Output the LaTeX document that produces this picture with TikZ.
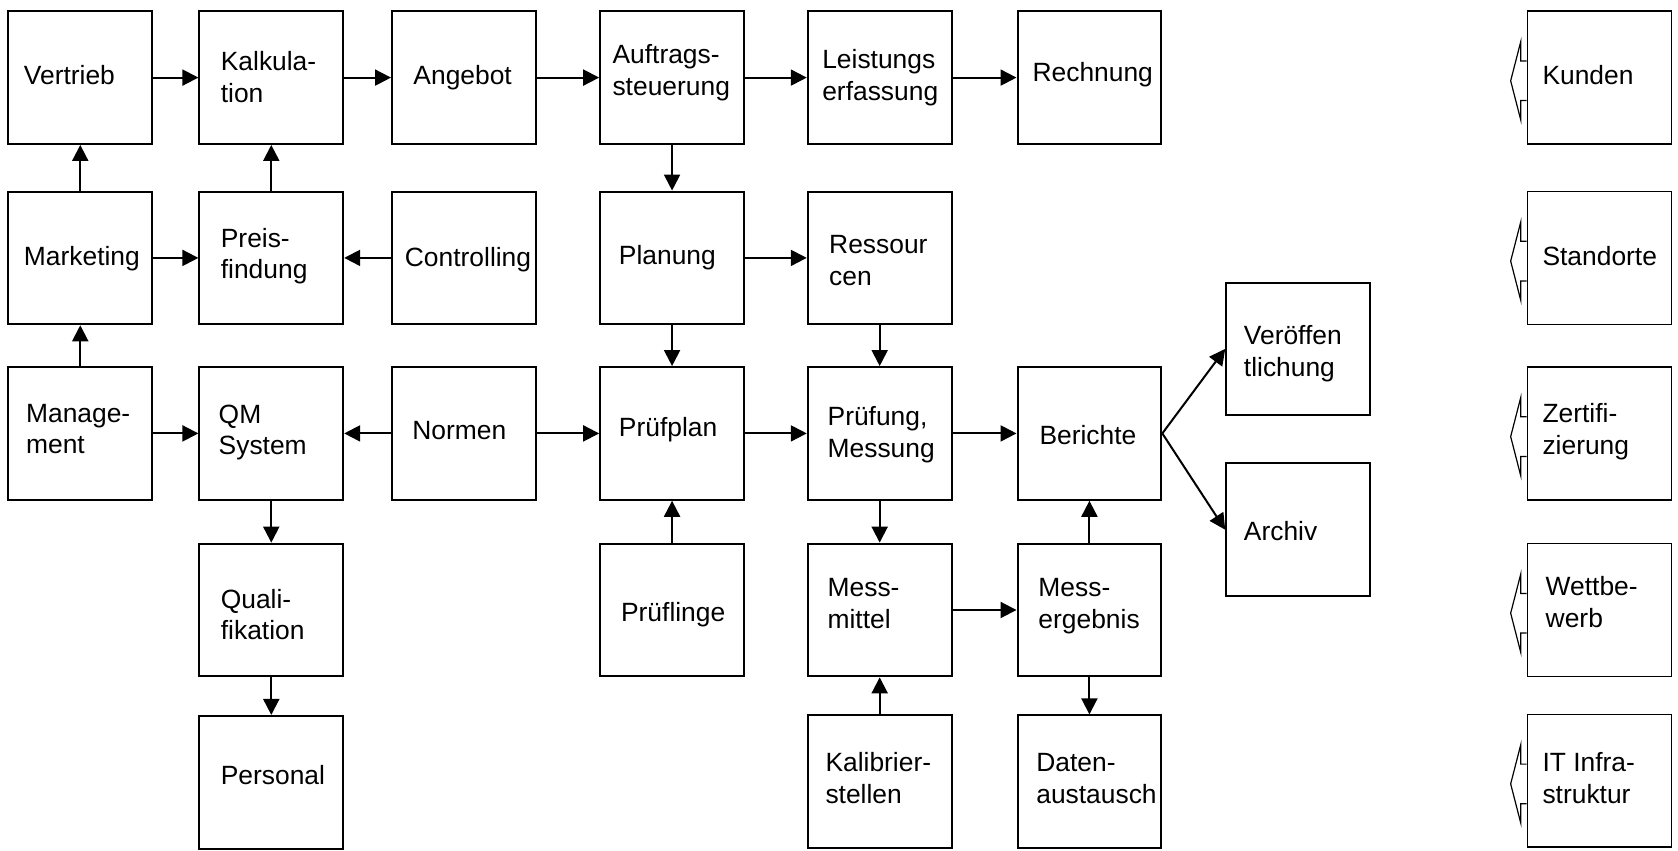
\documentclass[tikz,border=0pt]{standalone}
\usepackage{fontspec}
\setmainfont{Liberation Sans}
\usetikzlibrary{arrows.meta}
\tikzset{
  box/.style={draw, line width=1pt, minimum width=71.9pt, minimum height=66.35pt, inner sep=0pt},
  rbox/.style={draw, line width=0.75pt, minimum width=71.9pt, minimum height=66.35pt, inner sep=0pt},
  lbl/.style={inner sep=0pt, align=left, font=\fontsize{13.2}{15.85}\selectfont, anchor=base west},
  conn/.style={line width=1pt, -{Triangle[length=8pt,width=8pt]}},
  outl/.style={line width=0.6pt, line join=miter}
}
% #5 = baseline of the last text line
\newcommand\bx[6]{\node[box] (#1) at (#2,#3) {};\node[lbl] at (#4,#5) {#6};}
\newcommand\rbx[5]{\node[rbox] (#1) at (1494.5,#2) {};\node[lbl] at (#3,#4) {#5};
  \draw[outl] ([shift={(0,-15.5)}]#1.west) -- ++(-5.6,0) -- ++(0,-18) -- ++(-9.4,36.5) -- ++(9.4,36.5) -- ++(0,-18) -- ++(5.6,0);}
\begin{document}
\begin{tikzpicture}[x=0.5351pt,y=-0.5351pt]
\useasboundingbox (0,0) rectangle (1568,795);
% row 1
\bx{vertrieb}{75}{72.5}{22}{79}{Vertrieb}
\bx{kalk}{253.5}{72.5}{206}{95.6}{Kalkula-\\tion}
\bx{angebot}{433.5}{72.5}{386}{79}{Angebot}
\bx{auftrag}{628}{72.5}{572}{89}{Auftrags-\\steuerung}
\bx{leistung}{822}{72.5}{768}{94}{Leistungs\\erfassung}
\bx{rechnung}{1018}{72.5}{964.5}{76}{Rechnung}
% row 2
\bx{marketing}{75}{241}{22}{248}{Marketing}
\bx{preis}{253.5}{241}{206}{260.5}{Preis-\\findung}
\bx{controlling}{433.5}{241}{378}{249}{Controlling}
\bx{planung}{628}{241}{578}{247.5}{Planung}
\bx{ressourcen}{822}{241}{774.5}{266.5}{Ressour\\cen}
% row 3
\bx{management}{75}{405}{24}{424}{Manage-\\ment}
\bx{qm}{253.5}{405}{204}{425}{QM\\System}
\bx{normen}{433.5}{405}{385}{411}{Normen}
\bx{pruefplan}{628}{405}{578}{408}{Prüfplan}
\bx{pruefung}{822}{405}{773}{427.5}{Prüfung,\\Messung}
\bx{berichte}{1018}{405}{971}{415}{Berichte}
\bx{veroeff}{1213}{326}{1162}{351.5}{Veröffen\\tlichung}
\bx{archiv}{1213}{495}{1162}{505}{Archiv}
% row 4
\bx{quali}{253.5}{570}{206}{598}{Quali-\\fikation}
\bx{prueflinge}{628}{570}{580}{581}{Prüflinge}
\bx{messmittel}{822}{570}{773}{587}{Mess-\\mittel}
\bx{messerg}{1018}{570}{970}{587}{Mess-\\ergebnis}
% row 5
\bx{personal}{253.5}{731}{206}{733}{Personal}
\bx{kalibrier}{822}{730.5}{771}{751}{Kalibrier-\\stellen}
\bx{daten}{1018}{730.5}{968}{751}{Daten-\\austausch}
% right column
\rbx{kunden}{72.5}{1441}{79}{Kunden}
\rbx{standorte}{241}{1441}{248}{Standorte}
\rbx{zert}{405}{1441}{424.5}{Zertifi-\\zierung}
\rbx{wettbewerb}{570}{1444}{586.5}{Wettbe-\\werb}
\rbx{it}{729.5}{1441}{750.5}{IT Infra-\\struktur}
% connectors
\draw[conn] (vertrieb) -- (kalk);
\draw[conn] (kalk) -- (angebot);
\draw[conn] (angebot) -- (auftrag);
\draw[conn] (auftrag) -- (leistung);
\draw[conn] (leistung) -- (rechnung);
\draw[conn] (marketing) -- (vertrieb);
\draw[conn] (preis) -- (kalk);
\draw[conn] (marketing) -- (preis);
\draw[conn] (controlling) -- (preis);
\draw[conn] (auftrag) -- (planung);
\draw[conn] (planung) -- (ressourcen);
\draw[conn] (management) -- (marketing);
\draw[conn] (management) -- (qm);
\draw[conn] (normen) -- (qm);
\draw[conn] (normen) -- (pruefplan);
\draw[conn] (planung) -- (pruefplan);
\draw[conn] (ressourcen) -- (pruefung);
\draw[conn] (pruefplan) -- (pruefung);
\draw[conn] (pruefung) -- (berichte);
\draw[conn] (berichte.east) -- (veroeff.west);
\draw[conn] (berichte.east) -- (archiv.west);
\draw[conn] (prueflinge) -- (pruefplan);
\draw[conn] (pruefung) -- (messmittel);
\draw[conn] (messmittel) -- (messerg);
\draw[conn] (messerg) -- (berichte);
\draw[conn] (kalibrier) -- (messmittel);
\draw[conn] (messerg) -- (daten);
\draw[conn] (qm) -- (quali);
\draw[conn] (quali) -- (personal);
\end{tikzpicture}
\end{document}
